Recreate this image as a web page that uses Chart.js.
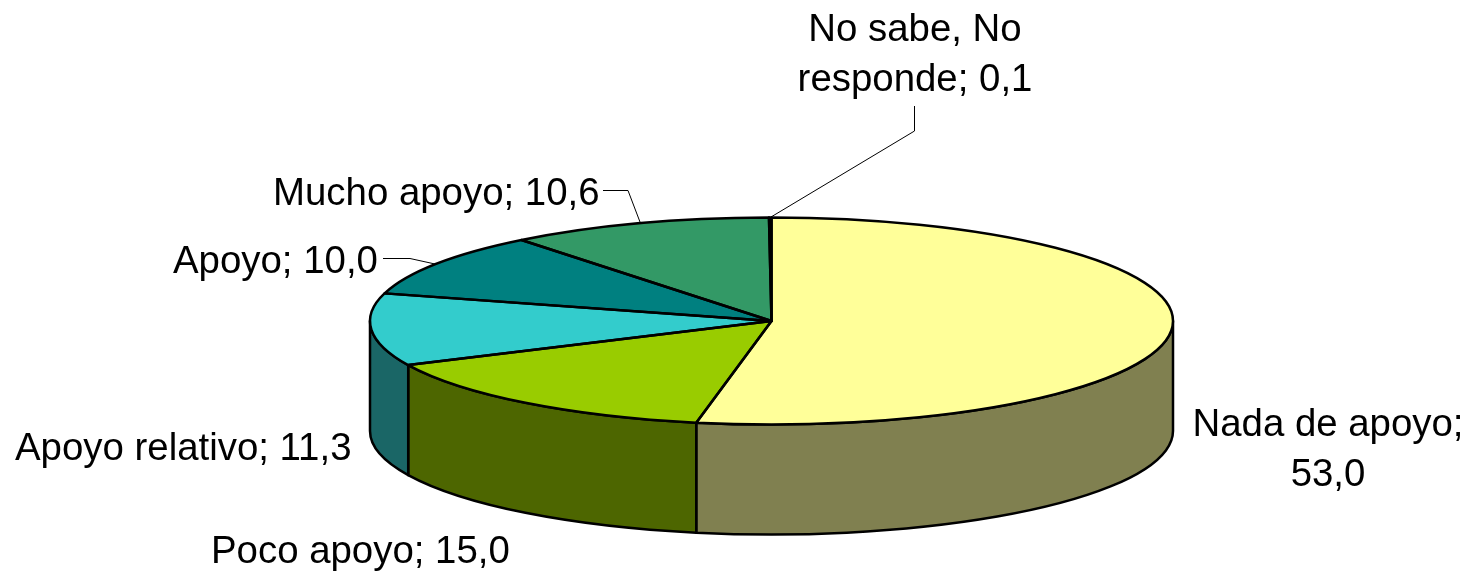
<!DOCTYPE html>
<html>
<head>
<meta charset="utf-8">
<style>
html,body{margin:0;padding:0;background:#fff;overflow:hidden}
#wrap{position:relative;width:1472px;height:571px}
</style>
<script src="https://cdn.jsdelivr.net/npm/chart.js@4/dist/chart.umd.min.js"></script>
</head>
<body>
<div id="wrap"><canvas id="c" width="1472" height="571"></canvas></div>
<script>
const categories = ["Nada de apoyo", "Poco apoyo", "Apoyo relativo", "Apoyo", "Mucho apoyo", "No sabe, No responde"];
const values = [53.0, 15.0, 11.3, 10.0, 10.6, 0.1];
const topColors = ["#FFFF99", "#99CC00", "#33CCCC", "#008080", "#339966", "#CCFFCC"];
const wallColors = ["#808050", "#4D6600", "#1A6666", "#004040", "#1A4D33", "#668066"];

const PIE = { cx: 771.5, cy: 321, rx: 401.5, ry: 103.5, depth: 110 };
const FONT = '38.4px "Liberation Sans", Arial, sans-serif';
const LINE_GAP = 50;
const labelLayout = [
  { lines: 2, split: "Nada de apoyo;", x: 1328, y: 436, align: "center" },
  { lines: 1, x: 211, y: 563, align: "left" },
  { lines: 1, x: 15, y: 460, align: "left" },
  { lines: 1, x: 173, y: 273, align: "left" },
  { lines: 1, x: 273, y: 205, align: "left" },
  { lines: 2, split: "No sabe, No", x: 915, y: 41, align: "center" }
];
const leaders = [
  [[771, 217], [914.5, 131], [914.5, 106]],
  [[640, 222], [628, 190.5], [603, 190.5]],
  [[435, 264], [410, 258.5], [383, 258.5]]
];

function fmt(v) { return v.toFixed(1).replace(".", ","); }
function labelLines(i) {
  const whole = categories[i] + "; " + fmt(values[i]);
  const l = labelLayout[i];
  if (l.lines === 2) {
    return l.split.endsWith(";")
      ? [l.split, fmt(values[i])]
      : [l.split, whole.slice(l.split.length + 1)];
  }
  return [whole];
}

const pie3d = {
  id: "pie3d",
  beforeDatasetsDraw(chart) {
    const ctx = chart.ctx, P = PIE;
    const arcs = chart.getDatasetMeta(0).data;
    ctx.save();
    ctx.lineWidth = 2.5;
    ctx.strokeStyle = "#000";
    ctx.lineJoin = "round";
    arcs.forEach((a, i) => {
      const s = Math.max(a.startAngle, 0), e = Math.min(a.endAngle, Math.PI);
      if (e <= s) return;
      ctx.beginPath();
      ctx.ellipse(P.cx, P.cy, P.rx, P.ry, 0, s, e, false);
      ctx.ellipse(P.cx, P.cy + P.depth, P.rx, P.ry, 0, e, s, true);
      ctx.closePath();
      ctx.fillStyle = wallColors[i];
      ctx.fill();
      ctx.stroke();
    });
    ctx.restore();
    const a0 = arcs[0];
    const R = a0.outerRadius;
    ctx.save();
    ctx.translate(P.cx, P.cy);
    ctx.scale(P.rx / R, P.ry / R);
    ctx.translate(-a0.x, -a0.y);
  },
  afterDatasetsDraw(chart) {
    const ctx = chart.ctx, P = PIE;
    ctx.restore();
    const arcs = chart.getDatasetMeta(0).data;
    ctx.save();
    ctx.lineWidth = 2.5;
    ctx.strokeStyle = "#000";
    ctx.lineJoin = "round";
    arcs.forEach((a) => {
      ctx.beginPath();
      ctx.moveTo(P.cx, P.cy);
      ctx.ellipse(P.cx, P.cy, P.rx, P.ry, 0, a.startAngle, a.endAngle, false);
      ctx.closePath();
      ctx.stroke();
    });
    ctx.restore();
  },
  afterDraw(chart) {
    const ctx = chart.ctx;
    ctx.save();
    ctx.strokeStyle = "#000";
    ctx.lineWidth = 1;
    leaders.forEach((pts) => {
      ctx.beginPath();
      pts.forEach((p, i) => i ? ctx.lineTo(p[0], p[1]) : ctx.moveTo(p[0], p[1]));
      ctx.stroke();
    });
    ctx.fillStyle = "#000";
    ctx.font = FONT;
    ctx.textBaseline = "alphabetic";
    labelLayout.forEach((l, i) => {
      ctx.textAlign = l.align;
      labelLines(i).forEach((t, k) => ctx.fillText(t, l.x, l.y + k * LINE_GAP));
    });
    ctx.restore();
  }
};

new Chart(document.getElementById("c"), {
  type: "pie",
  data: {
    labels: categories,
    datasets: [{ data: values, backgroundColor: topColors, borderWidth: 0, hoverOffset: 0 }]
  },
  options: {
    responsive: false,
    animation: false,
    events: [],
    layout: { padding: 0 },
    plugins: { legend: { display: false }, tooltip: { enabled: false }, title: { display: false } }
  },
  plugins: [pie3d]
});
</script>
</body>
</html>
